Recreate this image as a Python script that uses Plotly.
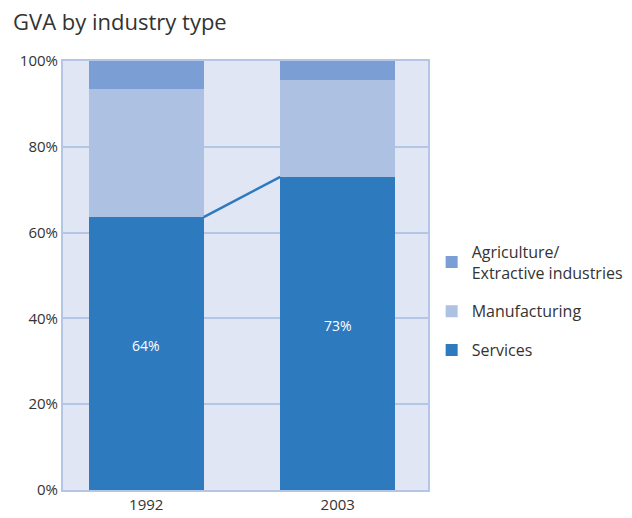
import plotly.graph_objects as go

years = ["1992", "2003"]
x_pos = [0, 1]
services = [63.6, 73.0]
manufacturing = [29.9, 22.6]
agriculture = [6.5, 4.4]
series_names = ["Services", "Manufacturing", "Agriculture/<br>Extractive industries"]
legend_ranks = [3, 2, 1]
colors = ["#2e7abf", "#adc1e3", "#7b9fd4"]
y_ticks = [0, 20, 40, 60, 80, 100]
y_tick_text = [f"{v}%" for v in y_ticks]

FONT = "Open Sans"
BAR_W = 0.6

fig = go.Figure()
for i, (name, vals) in enumerate(zip(series_names, [services, manufacturing, agriculture])):
    fig.add_trace(go.Bar(
        x=x_pos, y=vals, name=name, width=BAR_W,
        marker=dict(color=colors[i], line=dict(width=0)),
        legendgroup=f"g{i}", legendrank=legend_ranks[i], hoverinfo="skip",
    ))

# connector line between the tops of the services bars
fig.add_trace(go.Scatter(
    x=[x_pos[0] + BAR_W / 2, x_pos[1] - BAR_W / 2], y=services,
    mode="lines", line=dict(color="#2e7abf", width=2.5),
    showlegend=False, hoverinfo="skip",
))

for xp, v in zip(x_pos, services):
    fig.add_annotation(x=xp, y=v / 2, text=f"{round(v)}%", showarrow=False,
                       yshift=8, font=dict(family=FONT, size=14, color="white"))

grid_c = "#b3c6e6"
fig.update_layout(
    barmode="stack",
    width=632, height=518,
    margin=dict(l=55, r=201, t=53, b=28),
    paper_bgcolor="white",
    plot_bgcolor="#e1e6f4",
    font=dict(family=FONT, size=15, color="#333333"),
    title=dict(text="GVA by industry type", x=5 / 624, xref="container", xanchor="left",
               y=1, yref="container", yanchor="top", pad=dict(t=7, l=0),
               font=dict(family=FONT, size=22, color="#333333")),
    showlegend=True,
    legend=dict(x=1.01, xanchor="left", y=0.44, yanchor="middle",
                traceorder="grouped", tracegroupgap=15,
                font=dict(family=FONT, size=16, color="#333333"),
                bgcolor="rgba(0,0,0,0)", itemwidth=30),
    xaxis=dict(range=[-0.435, 1.4715], tickvals=x_pos, ticktext=years,
               showgrid=False, zeroline=False, showline=True, mirror=True,
               linecolor=grid_c, linewidth=2, ticks="", fixedrange=True),
    yaxis=dict(range=[0, 100], tickvals=y_ticks, ticktext=y_tick_text,
               showgrid=True, gridcolor=grid_c, gridwidth=2, zeroline=False,
               showline=True, mirror=True, linecolor=grid_c, linewidth=2,
               ticks="", fixedrange=True),
)

fig.write_html("out.html")
